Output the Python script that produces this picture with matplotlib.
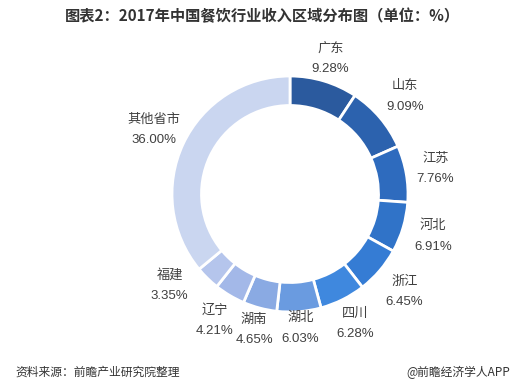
import matplotlib.pyplot as plt
from matplotlib.transforms import Bbox
import numpy as np

plt.rcParams['font.family'] = ['Noto Sans CJK SC', 'DejaVu Sans']

regions = ['广东', '山东', '江苏', '河北', '浙江', '四川', '湖北', '湖南', '辽宁', '福建', '其他省市']
shares = [9.28, 9.09, 7.76, 6.91, 6.45, 6.28, 6.03, 4.65, 4.21, 3.35, 36.00]
colors = ['#2b5a9e', '#2c62ae', '#2e6bbe', '#3073c8', '#357cd4', '#3f88de',
          '#6a9be0', '#8aaae3', '#a3b8e8', '#b5c5ec', '#cad6f0']

fig = plt.figure(figsize=(5.19, 3.87), dpi=100)
# центр кольца примерно в (290, 194) пикселей, радиус 118
W, H = 519, 387
r_px = 118
half = 1.6 * r_px
ax = fig.add_axes([(290 - half) / W, (H - 194 - half) / H, 2 * half / W, 2 * half / H])

wedges, _ = ax.pie(shares, colors=colors, startangle=90, counterclock=False,
                   radius=1.0, wedgeprops=dict(width=0.25, edgecolor='white', linewidth=2))
# pie() сам ставит пределы осей, поэтому задаём их после
ax.set_xlim(-1.6, 1.6)
ax.set_ylim(-1.6, 1.6)
ax.set_aspect('equal')
ax.axis('off')

# подписи снаружи кольца
lab_font = ['Liberation Sans', 'Noto Sans CJK SC']
r0, hw, hh = 0.92, 0.30, 0.20


def label_xy(ang):
    c, s = np.cos(ang), np.sin(ang)
    r = r0 + hw * abs(c) + hh * abs(s)
    return r * c, r * s


def padded(t, renderer, pad):
    bb = t.get_window_extent(renderer)
    return Bbox.from_extents(bb.x0 - pad, bb.y0 - pad, bb.x1 + pad, bb.y1 + pad)


renderer = fig.canvas.get_renderer()
prev = None
for w, name, val in zip(wedges, regions, shares):
    ang = np.deg2rad((w.theta1 + w.theta2) / 2)
    t = ax.text(*label_xy(ang), f'{name}\n{val:.2f}%', ha='center', va='center',
                family=lab_font, fontsize=9.5, color='#404040', linespacing=1.95)
    # если налезает на предыдущую подпись — сдвигаем по часовой стрелке
    if prev is not None and padded(t, renderer, 0).overlaps(prev.get_window_extent(renderer)):
        while padded(t, renderer, 7).overlaps(prev.get_window_extent(renderer)):
            ang -= np.deg2rad(0.5)
            t.set_position(label_xy(ang))
    prev = t

fig.text(262 / W, 1 - 16 / H, '图表2：2017年中国餐饮行业收入区域分布图（单位：%）',
         ha='center', va='center', fontsize=11, fontweight='bold', color='#333333')
fig.text(15 / W, 1 - 372 / H, '资料来源：前瞻产业研究院整理', ha='left', va='center',
         fontsize=8.5, style='italic', color='#333333')
fig.text(510 / W, 1 - 372 / H, '@前瞻经济学人APP', ha='right', va='center',
         fontsize=8.5, color='#333333')

fig.savefig('out.png', dpi=100)
